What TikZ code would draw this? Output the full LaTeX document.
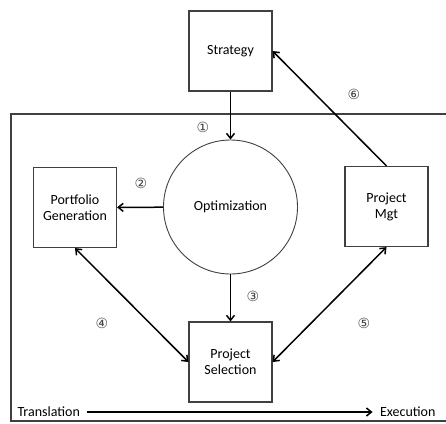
\documentclass[tikz,border=0pt]{standalone}
\usepackage{fontspec}
\setmainfont{Carlito}
\newfontfamily\circfont{DejaVu Sans}
\usetikzlibrary{arrows.meta,calc}

\begin{document}
\begin{tikzpicture}[x=1pt,y=-1pt,
	box_node/.style={rectangle,draw=black!75,line width=1.1pt,minimum width=83pt,minimum height=80pt,align=center,font=\fontsize{14}{16}\selectfont},
	opt_node/.style={circle,draw=black!75,line width=0.9pt,minimum size=134pt,font=\fontsize{14}{16}\selectfont},
	num_node/.style={font=\circfont\fontsize{14}{15}\selectfont,text=black!75},
	flow/.style={line width=1.5pt,-{Straight Barb[length=5pt,width=8pt]}},
	both/.style={line width=1.5pt,{Straight Barb[length=5pt,width=8pt]}-{Straight Barb[length=5pt,width=8pt]}}]

	\useasboundingbox (0,0) rectangle (446,423);
	\draw[black!75,line width=1.1pt] (450,114) -- (11,114) -- (11,421) -- (450,421);

	\node[box_node] (strategy) at (230.5,51) {Strategy};
	\node[opt_node] (opt) at (230.5,207) {Optimization};
	\node[box_node] (portfolio) at (75,207.5) {Portfolio\\Generation};
	\node[box_node] (mgt) at (386.5,206.5) {Project\\Mgt};
	\node[box_node] (selection) at (230.5,362) {Project\\Selection};

	\node[num_node] (n1) at (203,127) {①};
	\node[num_node] (n2) at (141,183) {②};
	\node[num_node] (n3) at (253,296) {③};
	\node[num_node] (n4) at (102,323) {④};
	\node[num_node] (n5) at (364,323) {⑤};
	\node[num_node] (n6) at (354,94) {⑥};

	\node[font=\fontsize{14}{16}\selectfont,anchor=west] (trans) at (14,412) {Translation};
	\node[font=\fontsize{14}{16}\selectfont,anchor=east] (exec) at (439,412) {Execution};

	\draw[flow] (strategy) -- (opt);
	\draw[flow] (opt) -- (portfolio);
	\draw[flow] (opt) -- (selection);
	\draw[both] (portfolio.south) -- (selection.west);
	\draw[both] (mgt.south) -- (selection.east);
	\draw[flow] (mgt.north) -- (strategy.east);
	\draw[flow,shorten <=4pt,shorten >=4pt] (trans) -- (exec);
\end{tikzpicture}
\end{document}
